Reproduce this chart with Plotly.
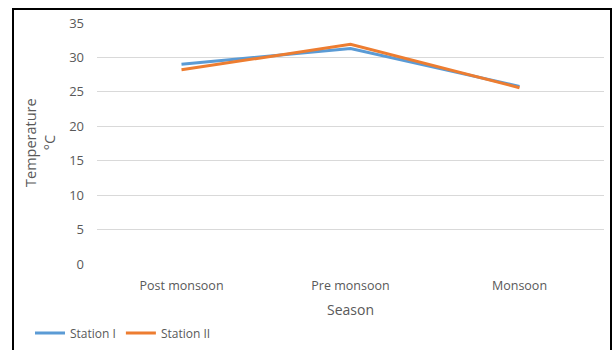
import plotly.graph_objects as go

seasons = ["Post monsoon", "Pre monsoon", "Monsoon"]
station_1 = [29.0, 31.3, 25.8]
station_2 = [28.2, 31.9, 25.6]
y_ticks = [0, 5, 10, 15, 20, 25, 30, 35]

FONT = "Open Sans"
GREY = "#595959"

fig = go.Figure()
fig.add_trace(go.Scatter(x=seasons, y=station_1, mode="lines", name="Station I",
                         line=dict(color="#5B9BD5", width=3)))
fig.add_trace(go.Scatter(x=seasons, y=station_2, mode="lines", name="Station II",
                         line=dict(color="#ED7D31", width=3)))

L, R, T, B = 97, 9, 23, 86
W, H = 613, 350
pw, ph = W - L - R, H - T - B

def px_x(x):
    return (x - L) / pw

def px_y(y):
    return (H - B - y) / ph

fig.update_layout(
    width=W, height=H,
    margin=dict(l=L, r=R, t=T, b=B, autoexpand=False),
    paper_bgcolor="white", plot_bgcolor="white",
    font=dict(family=FONT, size=12, color=GREY),
    showlegend=True,
    legend=dict(orientation="h", x=px_x(30), y=px_y(333), xanchor="left", yanchor="middle",
                font=dict(size=12, color=GREY), itemwidth=30, tracegroupgap=0,
                bgcolor="rgba(0,0,0,0)"),
    xaxis=dict(type="category", range=[-0.5, 2.5], showgrid=False, showline=False,
               ticks="", tickfont=dict(size=12.5, color=GREY), ticklabelstandoff=12,
               title=dict(text="Season", font=dict(size=14, color=GREY), standoff=12)),
    yaxis=dict(range=[0, 35], tickvals=y_ticks, showgrid=True, gridcolor="#d9d9d9",
               gridwidth=1, zeroline=False, showline=False, ticks="",
               tickfont=dict(size=13, color=GREY), ticklabelstandoff=12),
)

fig.add_annotation(text="Temperature<br>°C", textangle=-90, xref="paper", yref="paper",
                   x=px_x(40), y=px_y(143), showarrow=False,
                   font=dict(size=14.5, color=GREY), xanchor="center", yanchor="middle")

fig.add_shape(type="rect", xref="paper", yref="paper",
              x0=px_x(13), x1=px_x(611), y0=px_y(360), y1=px_y(9),
              line=dict(color="black", width=2), fillcolor="rgba(0,0,0,0)", layer="above")

fig.write_html("out.html")
